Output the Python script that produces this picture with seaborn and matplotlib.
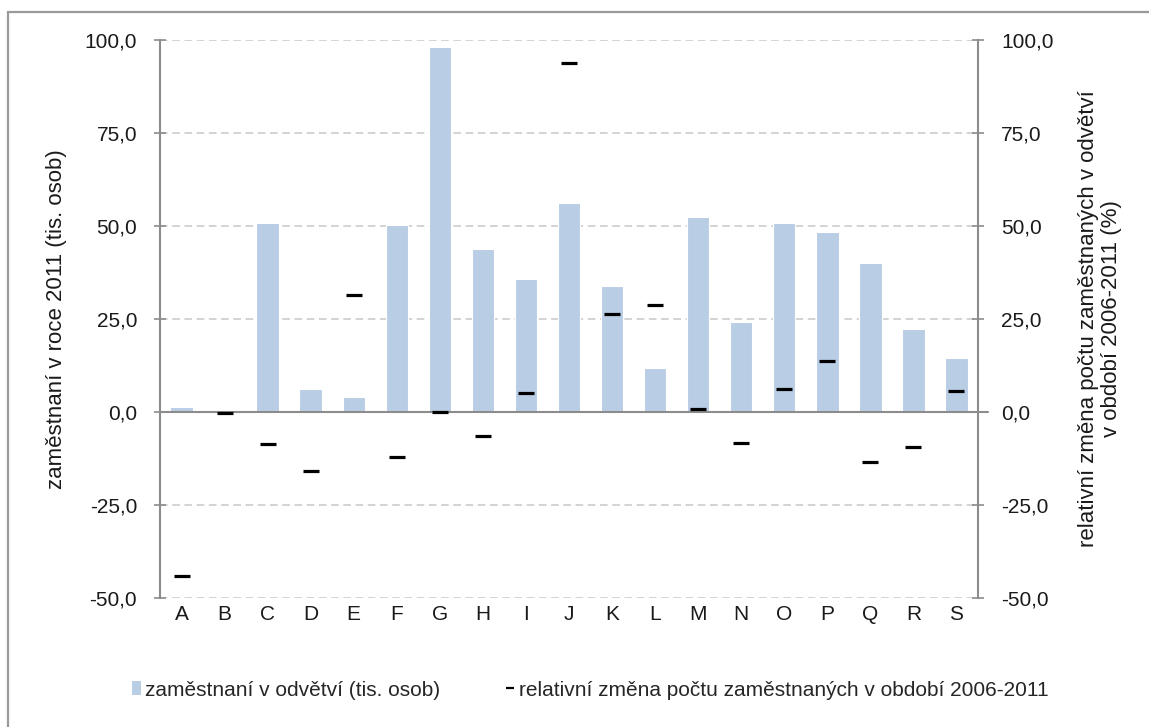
import numpy as np
import pandas as pd
import seaborn as sns
import matplotlib.pyplot as plt
from matplotlib.patches import Patch, Rectangle
from matplotlib.lines import Line2D
from matplotlib.ticker import FuncFormatter, MultipleLocator

# values
sectors = list("ABCDEFGHIJKLMNOPQRS")
employed_2011 = [1.3, 0.0, 50.7, 6.1, 3.9, 50.2, 98.0, 43.7, 35.7, 56.1,
                 34.0, 11.9, 52.3, 24.3, 50.7, 48.5, 40.0, 22.2, 14.6]
change_2006_2011 = [-44.0, -0.4, -8.6, -15.9, 31.4, -12.2, 0.0, -6.5, 5.0, 93.9,
                    26.3, 28.7, 0.8, -8.4, 6.1, 13.6, -13.5, -9.5, 5.6]

bar_label = "zaměstnaní v odvětví (tis. osob)"
mark_label = "relativní změna počtu zaměstnaných v období 2006-2011"
left_title = "zaměstnaní v roce 2011 (tis. osob)"
right_title = "relativní změna počtu zaměstnaných v odvětví\nv období 2006-2011 (%)"

df = pd.DataFrame({"sector": sectors, "employed": employed_2011,
                   "change": change_2006_2011})

sns.set_style("white")
plt.rcParams["font.family"] = ["Liberation Sans", "DejaVu Sans"]
plt.rcParams["font.size"] = 15

bar_col = "#B9CDE5"
axis_col = "#8C8C8C"
grid_col = "#C8C8C8"
text_col = "#1a1a1a"

fig = plt.figure(figsize=(11.49, 7.27), dpi=100)
ax = fig.add_axes([160 / 1149, 1 - 598 / 727, 818 / 1149, 558 / 727])
ax2 = ax.twinx()

sns.barplot(data=df, x="sector", y="employed", ax=ax, color=bar_col,
            saturation=1, width=0.52, edgecolor="white", linewidth=0.8)
sns.pointplot(data=df, x="sector", y="change", ax=ax2, color="black",
              marker="_", linestyle="none", markersize=11.5,
              markeredgewidth=2.3, errorbar=None)

fmt = FuncFormatter(lambda v, p: f"{v:.1f}".replace(".", ","))
for a in (ax, ax2):
    a.set_ylim(-50, 100)
    a.yaxis.set_major_locator(MultipleLocator(25))
    a.yaxis.set_major_formatter(fmt)
    a.set_xlim(-0.5, len(sectors) - 0.5)
    for s in a.spines.values():
        s.set_visible(False)
    a.tick_params(axis="y", direction="inout", length=9, width=1.2,
                  color=axis_col, pad=12, labelsize=15, labelcolor=text_col)
    a.grid(False)

ax.spines["left"].set_visible(True)
ax.spines["left"].set_color(axis_col)
ax.spines["left"].set_linewidth(1.5)
ax2.spines["right"].set_visible(True)
ax2.spines["right"].set_color(axis_col)
ax2.spines["right"].set_linewidth(1.5)

for v in [-50, -25, 25, 50, 75, 100]:
    ax.axhline(v, color=grid_col, lw=1.1, ls=(0, (5, 3)), zorder=0)
ax.axhline(0, color=axis_col, lw=1.5, zorder=1, xmax=1.012, clip_on=False)
ax.set_axisbelow(True)

ax.tick_params(axis="x", length=0, pad=5, labelsize=15, labelcolor=text_col)
ax.set_xlabel("")
ax2.set_xlabel("")

ax.set_ylabel(left_title, fontsize=16, va="center", color=text_col)
ax.yaxis.set_label_coords(-0.127, 0.5)
ax2.set_ylabel(right_title, fontsize=16, va="center", color=text_col,
               linespacing=1.1)
ax2.yaxis.set_label_coords(1.149, 0.5)

handles = [Patch(facecolor=bar_col, edgecolor="none"),
           Line2D([], [], color="black", marker="_", ls="none",
                  markersize=6, markeredgewidth=1.6)]
fig.legend(handles, [bar_label, mark_label], loc="center",
           bbox_to_anchor=(590 / 1149, 1 - 690 / 727), ncol=2, frameon=False,
           fontsize=15, handlelength=0.45, handleheight=0.65, handletextpad=0.2,
           columnspacing=3.1)

fig.add_artist(Rectangle((8 / 1149, -0.1), 1.2, (727 - 12) / 727 + 0.1,
                         transform=fig.transFigure, fill=False,
                         edgecolor="#9A9A9A", lw=1.6))

fig.savefig("out.png", dpi=100)
